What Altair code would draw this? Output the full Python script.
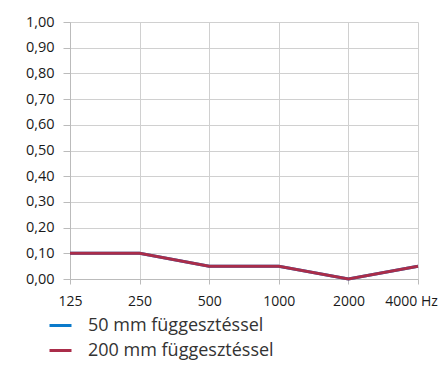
import altair as alt
import pandas as pd

freqs = ["125", "250", "500", "1000", "2000", "4000"]
series = ["50 mm függesztéssel", "200 mm függesztéssel"]
vals_50 = [0.10, 0.10, 0.05, 0.05, 0.00, 0.05]
vals_200 = [0.10, 0.10, 0.05, 0.05, 0.00, 0.05]
colors = ["#0a7acb", "#aa2d4a"]

rows = []
for f, v in zip(freqs, vals_50):
    rows.append({"freq": f, "value": v, "series": series[0]})
for f, v in zip(freqs, vals_200):
    rows.append({"freq": f, "value": v, "series": series[1]})
df = pd.DataFrame(rows)

font = "Open Sans"

chart = alt.Chart(df).mark_line(strokeWidth=3).encode(
    x=alt.X("freq:N", sort=freqs, title=None,
            scale=alt.Scale(padding=0),
            axis=alt.Axis(labelAngle=0, labelFont=font, labelFontSize=14, labelColor="#1a1a1a",
                          labelPadding=10, tickSize=5, tickColor="#bbbbbb", domainColor="#bbbbbb",
                          gridColor="#d0d0d0", grid=True,
                          labelOffset={"condition": {"test": "datum.value == '4000'", "value": -7}, "value": 0},
                          labelExpr="datum.value == '4000' ? '4000 Hz' : datum.value")),
    y=alt.Y("value:Q", title=None,
            scale=alt.Scale(domain=[0, 1]),
            axis=alt.Axis(values=[i / 10 for i in range(11)], labelFont=font, labelFontSize=14.5,
                          labelColor="#1a1a1a", tickSize=7, tickColor="#bbbbbb", domainColor="#bbbbbb",
                          gridColor="#d0d0d0", labelPadding=9,
                          labelExpr="replace(format(datum.value, '.2f'), '.', ',')")),
    color=alt.Color("series:N", sort=series,
                    scale=alt.Scale(domain=series, range=colors),
                    legend=alt.Legend(orient="none", legendX=-22, legendY=291, title=None,
                                      symbolType="stroke", symbolSize=484, symbolStrokeWidth=3,
                                      labelFont=font, labelFontSize=18, labelColor="#333333",
                                      labelLimit=400,
                                      rowPadding=3, labelOffset=15)),
    order=alt.Order("series:N", sort="descending"),
).properties(
    width=348, height=257,
    autosize=alt.AutoSizeParams(type="none"),
    padding={"left": 62, "top": 14, "right": 22, "bottom": 82},
).configure_view(stroke=None)

chart.save("out.html", embed_options={"renderer": "svg", "actions": False})
